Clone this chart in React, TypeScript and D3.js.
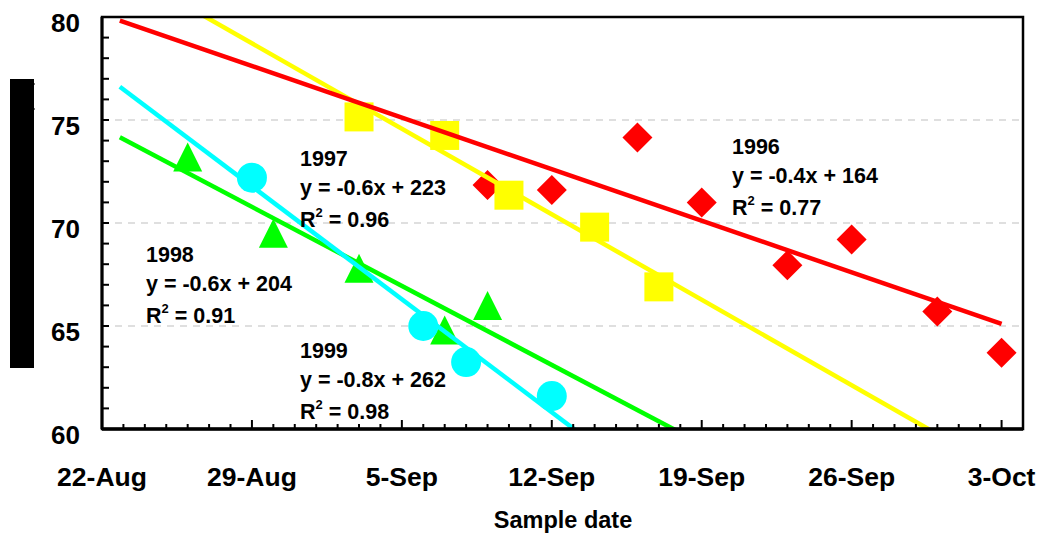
import React from "react";
import * as d3 from "d3";

// sample dates (month-day) and values per season
const dates1996 = ["09-09", "09-12", "09-16", "09-19", "09-23", "09-26", "09-30", "10-03"];
const values1996 = [71.85, 71.6, 74.15, 71.0, 67.95, 69.2, 65.7, 63.7];
const dates1997 = ["09-03", "09-07", "09-10", "09-14", "09-17"];
const values1997 = [75.15, 74.25, 71.35, 69.8, 66.9];
const dates1998 = ["08-26", "08-30", "09-03", "09-07", "09-09"];
const values1998 = [73.2, 69.5, 67.8, 64.8, 66.0];
const dates1999 = ["08-29", "09-06", "09-08", "09-12"];
const values1999 = [72.2, 65.0, 63.25, 61.6];

const years = ["1996", "1997", "1998", "1999"];
const equations = ["y = -0.4x + 164", "y = -0.6x + 223", "y = -0.6x + 204", "y = -0.8x + 262"];
const rSquared = ["0.77", "0.96", "0.91", "0.98"];

const yTicks = [60, 65, 70, 75, 80];
const xTickDates = ["08-22", "08-29", "09-05", "09-12", "09-19", "09-26", "10-03"];

const parse = (md: string) => d3.utcParse("%Y-%m-%dT%H:%M")(`2001-${md}T00:00`)!;
const parseT = (s: string) => d3.utcParse("%Y-%m-%dT%H:%M")(`2001-${s}`)!;

const W = 1040;
const H = 535;
const left = 102;
const right = 1023;
const top = 17;
const bottom = 429;
const font = "'Liberation Sans', Arial, Helvetica, sans-serif";

const x = d3.scaleUtc().domain([parse("08-22"), parse("10-04")]).range([left, right]);
const y = d3.scaleLinear().domain([60, 80]).range([bottom, top]);

// least squares trendline, x in days
const fit = (ds: Date[], vs: number[]) => {
  const xs = ds.map((d) => d.getTime() / 864e5);
  const mx = d3.mean(xs)!;
  const my = d3.mean(vs)!;
  const sxy = d3.sum(xs, (v, i) => (v - mx) * (vs[i] - my));
  const sxx = d3.sum(xs, (v) => (v - mx) ** 2);
  const b = sxy / sxx;
  return (d: Date) => my + b * (d.getTime() / 864e5 - mx);
};

type Series = {
  dates: string[];
  values: number[];
  color: string;
  shape: "diamond" | "square" | "triangle" | "circle";
  trendEnd: string;
  label: [number, number];
};

const series: Series[] = [
  { dates: dates1996, values: values1996, color: "#FF0000", shape: "diamond", trendEnd: "10-03T00:00", label: [732, 154] },
  { dates: dates1997, values: values1997, color: "#FFFF00", shape: "square", trendEnd: "10-04T00:00", label: [300, 166] },
  { dates: dates1998, values: values1998, color: "#00FF00", shape: "triangle", trendEnd: "10-04T00:00", label: [146, 262] },
  { dates: dates1999, values: values1999, color: "#00FFFF", shape: "circle", trendEnd: "10-04T00:00", label: [300, 358] },
];

const trendStart = parseT("08-22T20:00");

const symbolPath = (shape: Series["shape"]) => {
  if (shape === "diamond") return "M0,-15L15,0L0,15L-15,0Z";
  if (shape === "square") return "M-14.5,-14.5H14.5V14.5H-14.5Z";
  if (shape === "triangle") return "M0,-14.5L14.5,14.5L-14.5,14.5Z";
  return d3.arc()({ innerRadius: 0, outerRadius: 15, startAngle: 0, endAngle: 2 * Math.PI }) as string;
};

const App = () => {
  const days = d3.utcDay.range(parse("08-22"), parse("10-05"));
  const minorY = d3.range(61, 80);
  const fmt = d3.utcFormat("%-d-%b");
  const lineOrder = [1, 2, 3, 0];

  return (
    <svg width={W} height={H} style={{ position: "absolute", left: 0, top: 0, background: "#fff" }} fontFamily={font}>
      <defs>
        <clipPath id="plot">
          <rect x={left} y={top} width={right - left} height={bottom - top} />
        </clipPath>
      </defs>

      {/* blacked-out y title */}
      <rect x={10} y={79} width={24} height={289} fill="#000" />
      <line x1={33} x2={35} y1={84} y2={84} stroke="#000" strokeWidth={1} />
      <line x1={33} x2={35} y1={109} y2={109} stroke="#000" strokeWidth={1} />

      {/* gridlines */}
      {yTicks.slice(1, -1).map((t) => (
        <line key={t} x1={left} x2={right} y1={y(t)} y2={y(t)} stroke="#BFBFBF" strokeWidth={1} strokeDasharray="7,6" />
      ))}

      <g clipPath="url(#plot)">
        {series.map((s, si) =>
          s.dates.map((d, i) => (
            <path
              key={`${si}-${i}`}
              d={symbolPath(s.shape)}
              transform={`translate(${x(parse(d))},${y(s.values[i])})`}
              fill={s.color}
            />
          ))
        )}
        {lineOrder.map((si) => {
          const s = series[si];
          const f = fit(s.dates.map(parse), s.values);
          const end = parseT(s.trendEnd);
          const line = d3
            .line<Date>()
            .x((d) => x(d))
            .y((d) => y(f(d)));
          return <path key={si} d={line([trendStart, end]) as string} stroke={s.color} strokeWidth={4.5} fill="none" />;
        })}
      </g>

      {/* frame */}
      <rect x={left} y={top} width={right - left} height={bottom - top} fill="none" stroke="#000" strokeWidth={2.5} />

      {/* y ticks */}
      {minorY.map((v) => (
        <line key={v} x1={left} x2={left + 7} y1={y(v)} y2={y(v)} stroke="#000" strokeWidth={2} />
      ))}
      <line x1={left} x2={left} y1={top} y2={bottom} stroke="#000" strokeWidth={3} />
      {yTicks.map((t) => (
        <text key={t} x={80} y={y(t) + 15} textAnchor="end" fontSize={26} fontWeight="bold">
          {t}
        </text>
      ))}

      {/* x ticks */}
      {days.map((d, i) => (
        <line
          key={i}
          x1={x(d)}
          x2={x(d)}
          y1={bottom}
          y2={bottom - (i % 7 === 0 ? 9 : 5)}
          stroke="#000"
          strokeWidth={2}
        />
      ))}
      <line x1={left} x2={right} y1={bottom} y2={bottom} stroke="#000" strokeWidth={3.5} />
      {xTickDates.map((t) => (
        <text key={t} x={x(parse(t))} y={486} textAnchor="middle" fontSize={26.5} fontWeight="bold">
          {fmt(parse(t))}
        </text>
      ))}
      <text x={563} y={528} textAnchor="middle" fontSize={23.5} fontWeight="bold">
        Sample date
      </text>

      {/* regression labels */}
      {series.map((s, si) => {
        const [lx, ly] = s.label;
        return (
          <g key={si} fontSize={21.5} fontWeight="bold">
            <text x={lx} y={ly}>{years[si]}</text>
            <text x={lx} y={ly + 28.5}>{equations[si]}</text>
            <text x={lx} y={ly + 61}>
              R<tspan dy={-10} fontSize={13}>2</tspan>
              <tspan dy={10}> = {rSquared[si]}</tspan>
            </text>
          </g>
        );
      })}
    </svg>
  );
};

export default App;
